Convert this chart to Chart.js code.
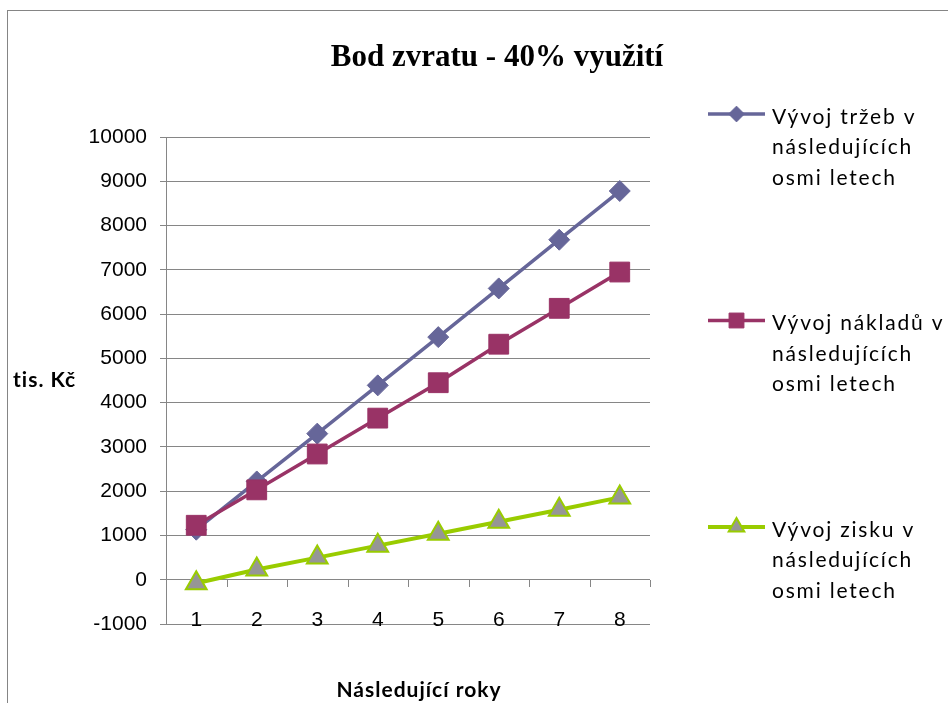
<!DOCTYPE html>
<html>
<head>
<meta charset="utf-8">
<script src="https://cdn.jsdelivr.net/npm/chart.js@4.4.0/dist/chart.umd.min.js"></script>
<style>
  html, body { margin: 0; padding: 0; background: #fff; overflow: hidden; }
  #frame {
    position: absolute; left: 7px; top: 10px;
    width: 1000px; height: 1000px;
    border: 1px solid #858585; box-sizing: border-box;
  }
  #wrap { position: absolute; left: 0; top: 0; width: 948px; height: 703px; }
</style>
</head>
<body>
<div id="frame"></div>
<div id="wrap"><canvas id="bepChart" width="948" height="703"></canvas></div>
<script>
// Data
const years = ['1', '2', '3', '4', '5', '6', '7', '8'];
const trzby = [1130, 2220, 3300, 4390, 5480, 6580, 7680, 8780];
const naklady = [1230, 2030, 2840, 3650, 4450, 5320, 6130, 6950];
const zisk = [-80, 230, 500, 770, 1040, 1310, 1580, 1860];

const seriesNames = [
    'Vývoj tržeb v následujících osmi letech',
    'Vývoj nákladů v následujících osmi letech',
    'Vývoj zisku v následujících osmi letech'
];
const legendLines = [
    ['Vývoj tržeb v', 'následujících', 'osmi letech'],
    ['Vývoj nákladů v', 'následujících', 'osmi letech'],
    ['Vývoj zisku v', 'následujících', 'osmi letech']
];
const yMin = -1000;
const yMax = 10000;
const yStep = 1000;

const chartTitle = 'Bod zvratu - 40% využití';
const xTitle = 'Následující roky';
const yTitle = 'tis. Kč';

const gridColor = '#868686';
const tickFont = '"Liberation Sans Narrow", "Arial Narrow", sans-serif';
const textFont = 'Lato, "Noto Sans", sans-serif';

// Titles, legend and the small ticks on the zero line
const extras = {
    id: 'extras',
    beforeDatasetsDraw(chart) {
        const ctx = chart.ctx;
        const xs = chart.scales.x;
        const y0 = chart.scales.y.getPixelForValue(0);
        ctx.save();
        ctx.strokeStyle = gridColor;
        ctx.lineWidth = 1;
        ctx.beginPath();
        for (let i = 0; i <= years.length; i++) {
            const px = Math.round(xs.getPixelForValue(i - 0.5)) + 0.5;
            ctx.moveTo(px, Math.round(y0));
            ctx.lineTo(px, Math.round(y0) + 7);
        }
        ctx.stroke();
        ctx.restore();
    },
    afterDraw(chart) {
        const ctx = chart.ctx;
        const area = chart.chartArea;
        ctx.save();
        ctx.fillStyle = '#000';

        // chart title
        ctx.font = 'bold 31px "Liberation Serif", "Times New Roman", serif';
        ctx.textAlign = 'center';
        ctx.textBaseline = 'alphabetic';
        ctx.fillText(chartTitle, 497, 66);

        // axis titles
        ctx.font = 'bold 21px ' + textFont;
        ctx.letterSpacing = '1px';
        ctx.textBaseline = 'middle';
        ctx.fillText(xTitle, 419, 690);
        ctx.textAlign = 'left';
        ctx.fillText(yTitle, 13, (area.top + area.bottom) / 2);

        // legend
        ctx.font = '21px ' + textFont;
        ctx.letterSpacing = '1.8px';
        chart.data.datasets.forEach((ds, i) => {
            const ly = area.top - 23 + i * 206.5;
            const x1 = area.right + 58;
            const x2 = area.right + 115;
            ctx.strokeStyle = ds.borderColor;
            ctx.lineWidth = ds.borderWidth;
            ctx.beginPath();
            ctx.moveTo(x1, ly);
            ctx.lineTo(x2, ly);
            ctx.stroke();
            ctx.fillStyle = ds.pointBackgroundColor;
            ctx.strokeStyle = ds.pointBorderColor;
            ctx.lineWidth = ds.pointBorderWidth;
            Chart.helpers.drawPoint(ctx, {
                pointStyle: ds.pointStyle,
                radius: ds.pointRadius * 0.75,
                rotation: 0,
                borderWidth: ds.pointBorderWidth
            }, (x1 + x2) / 2, ly);
            ctx.fillStyle = '#000';
            legendLines[i].forEach((line, k) => {
                ctx.fillText(line, area.right + 122, ly + 3 + k * 30.5);
            });
        });
        ctx.restore();
    }
};

const ctx = document.getElementById('bepChart').getContext('2d');
const bepChart = new Chart(ctx, {
    type: 'line',
    data: {
        labels: years,
        datasets: [{
            label: seriesNames[0],
            data: trzby,
            borderColor: '#666699',
            borderWidth: 3.5,
            pointStyle: 'rectRot',
            pointRadius: 10.5,
            pointBackgroundColor: '#666699',
            pointBorderColor: '#666699',
            pointBorderWidth: 1,
            tension: 0,
            order: 2
        }, {
            label: seriesNames[1],
            data: naklady,
            borderColor: '#993366',
            borderWidth: 3.5,
            pointStyle: 'rect',
            pointRadius: 14,
            pointBackgroundColor: '#993366',
            pointBorderColor: '#993366',
            pointBorderWidth: 1,
            tension: 0,
            order: 1
        }, {
            label: seriesNames[2],
            data: zisk,
            borderColor: '#99CC00',
            borderWidth: 4,
            pointStyle: 'triangle',
            pointRadius: 12,
            pointBackgroundColor: '#969696',
            pointBorderColor: '#99CC00',
            pointBorderWidth: 2,
            tension: 0,
            order: 0
        }]
    },
    options: {
        responsive: false,
        animation: false,
        devicePixelRatio: 1,
        layout: {
            padding: { top: 137, right: 298, bottom: 0, left: 0 }
        },
        plugins: {
            legend: { display: false },
            title: { display: false },
            tooltip: { enabled: false }
        },
        scales: {
            x: {
                type: 'category',
                offset: true,
                grid: { display: false, drawTicks: false },
                border: { display: false },
                ticks: {
                    color: '#000',
                    font: { family: tickFont, size: 21 },
                    mirror: true,
                    padding: -9,
                    maxRotation: 0
                },
                afterFit(scale) { scale.height = 79; }
            },
            y: {
                min: yMin,
                max: yMax,
                ticks: {
                    stepSize: yStep,
                    color: '#000',
                    font: { family: tickFont, size: 21 },
                    padding: 13,
                    callback: (value) => String(value)
                },
                grid: { color: gridColor, lineWidth: 1, tickLength: 6 },
                border: { color: gridColor, width: 1 },
                afterFit(scale) { scale.width = 166; }
            }
        }
    },
    plugins: [extras]
});
</script>
</body>
</html>
